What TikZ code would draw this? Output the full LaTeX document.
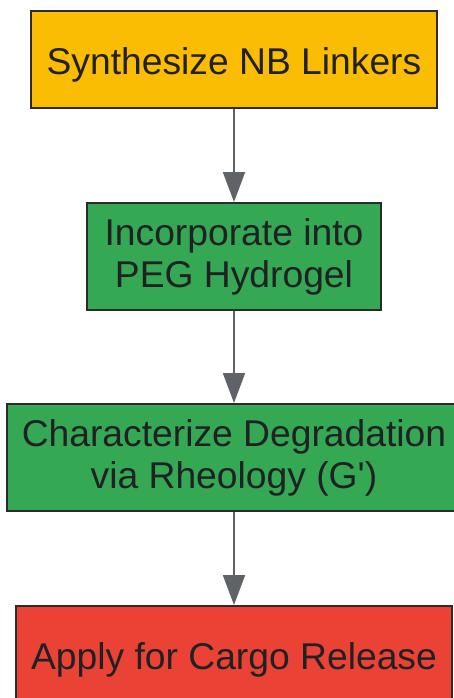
\documentclass[tikz,border=0pt]{standalone}
\usepackage{fontspec}
\setmainfont{Liberation Sans}
\usetikzlibrary{arrows.meta}

\definecolor{synthyellow}{HTML}{FBBC04}
\definecolor{stepgreen}{HTML}{34A853}
\definecolor{releasered}{HTML}{EA4335}
\definecolor{boxline}{HTML}{2B2B2B}
\definecolor{arrowgray}{HTML}{5F6368}
\definecolor{textgray}{HTML}{202124}

\begin{document}
\begin{tikzpicture}[x=0.02cm,y=-0.02cm,
  stepbox/.style={draw=boxline, line width=0.04cm, text=textgray, align=center,
    font=\fontsize{21.2}{24}\selectfont, inner sep=0pt,
    execute at begin node={\rule{0pt}{0.75cm}}},
  flow/.style={draw=arrowgray, line width=0.04cm, -{Triangle[length=0.6cm,width=0.44cm]}}]

  \useasboundingbox (0,0) rectangle (454,698);

  % boxes
  \node[stepbox, fill=synthyellow, minimum width=8.12cm, minimum height=1.94cm] (synth) at (234,59.5) {Synthesize NB Linkers};
  \node[stepbox, fill=stepgreen, minimum width=5.88cm, minimum height=2.14cm] (hydrogel) at (234,256.5) {Incorporate into\\PEG Hydrogel};
  \node[stepbox, fill=stepgreen, minimum width=9.08cm, minimum height=2.14cm] (rheo) at (234,457.5) {Characterize Degradation\\via Rheology (G\textquotesingle)};
  \node[stepbox, fill=releasered, minimum width=8.72cm, minimum height=1.94cm] (release) at (234,654.5) {Apply for Cargo Release};

  % arrows
  \draw[flow] (synth) -- (hydrogel);
  \draw[flow] (hydrogel) -- (rheo);
  \draw[flow] (rheo) -- (release);

\end{tikzpicture}
\end{document}
